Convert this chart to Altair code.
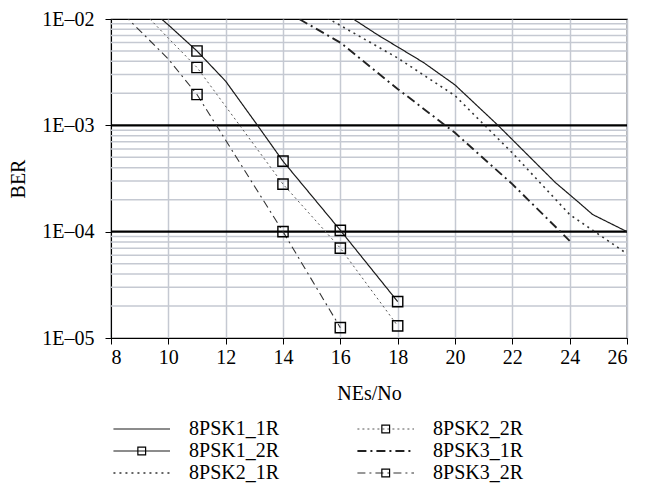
import altair as alt
import pandas as pd

FONT = "Liberation Serif"

series = ["8PSK1_1R", "8PSK1_2R", "8PSK2_1R", "8PSK2_2R", "8PSK3_1R", "8PSK3_2R"]

x_1_1R = [16.0, 17.3, 18.9, 20.0, 21.5, 23.5, 24.3, 24.8, 26.0]
y_1_1R = [1.2e-2, 7.1e-3, 3.9e-3, 2.4e-3, 1.0e-3, 2.9e-4, 1.9e-4, 1.45e-4, 1.0e-4]

x_1_2R = [9, 10, 11, 12, 13, 14, 16, 18]
y_1_2R = [1.5e-2, 8.8e-3, 5.0e-3, 2.6e-3, 1.1e-3, 4.6e-4, 1.03e-4, 2.2e-5]

x_2_1R = [15, 16, 18, 20, 22, 24, 26]
y_2_1R = [1.23e-2, 8.7e-3, 4.3e-3, 1.9e-3, 5.5e-4, 1.45e-4, 6.2e-5]

x_2_2R = [9, 10, 11, 14, 16, 18]
y_2_2R = [1.26e-2, 6.6e-3, 3.5e-3, 2.8e-4, 7.0e-5, 1.3e-5]

x_3_1R = [14, 16, 18, 20, 22, 24]
y_3_1R = [1.22e-2, 6.0e-3, 2.2e-3, 8.5e-4, 2.8e-4, 8.2e-5]

x_3_2R = [8, 10, 11, 14, 16]
y_3_2R = [1.45e-2, 4.2e-3, 1.95e-3, 1.0e-4, 1.25e-5]

marker_x = {"8PSK1_2R": [11, 14, 16, 18], "8PSK2_2R": [11, 14, 16, 18], "8PSK3_2R": [11, 14, 16]}

x_ticks = [8, 10, 12, 14, 16, 18, 20, 22, 24, 26]
y_ticks = [1e-5, 1e-4, 1e-3, 1e-2]
decade_lines = [1e-4, 1e-3]
minor_grid = [m * 10.0 ** e for e in (-5, -4, -3) for m in range(2, 10)]

data_xy = {
    "8PSK1_1R": (x_1_1R, y_1_1R),
    "8PSK1_2R": (x_1_2R, y_1_2R),
    "8PSK2_1R": (x_2_1R, y_2_1R),
    "8PSK2_2R": (x_2_2R, y_2_2R),
    "8PSK3_1R": (x_3_1R, y_3_1R),
    "8PSK3_2R": (x_3_2R, y_3_2R),
}

styles = {
    "8PSK1_1R": dict(color="#1a1a1a", strokeWidth=1.2, strokeDash=[1, 0]),
    "8PSK1_2R": dict(color="#1a1a1a", strokeWidth=1.2, strokeDash=[1, 0]),
    "8PSK2_1R": dict(color="#333333", strokeWidth=1.6, strokeDash=[2, 4]),
    "8PSK2_2R": dict(color="#555555", strokeWidth=1.0, strokeDash=[2, 3]),
    "8PSK3_1R": dict(color="#222222", strokeWidth=1.9, strokeDash=[9, 4, 2, 4]),
    "8PSK3_2R": dict(color="#333333", strokeWidth=1.1, strokeDash=[8, 4, 2, 4]),
}

rows = []
for name in series:
    xs, ys = data_xy[name]
    for i, (xv, yv) in enumerate(zip(xs, ys)):
        rows.append({"series": name, "x": xv, "ber": yv, "order": i})
df = pd.DataFrame(rows)

mk = df[df.apply(lambda r: r["x"] in marker_x.get(r["series"], []), axis=1)].reset_index(drop=True)

GRID = "#c5c9d2"
FS = 20

x_enc = alt.X(
    "x:Q",
    scale=alt.Scale(domain=[8, 26], nice=False, zero=False),
    axis=alt.Axis(
        values=x_ticks, title="NEs/No", grid=True, gridColor=GRID, gridWidth=1.5,
        tickSize=6, tickColor="black", domainColor="black", labelFont=FONT,
        labelFontSize=FS, labelColor="black", titleFont=FONT, titleFontSize=FS,
        titleFontWeight="normal", titleColor="black", labelPadding=3, titlePadding=16,
    ),
)
y_scale = alt.Scale(type="log", domain=[1e-5, 1e-2], nice=False)
y_axis = alt.Axis(
    values=y_ticks, title="BER", grid=False, tickSize=6, tickColor="black",
    domainColor="black", labelFont=FONT, labelFontSize=FS, labelColor="black",
    labelExpr="'1E\u20130' + round(-log(datum.value)/LN10)",
    titleFont=FONT, titleFontSize=FS, titleFontWeight="normal", titleColor="black",
    labelPadding=11, titlePadding=13,
)
y_enc = alt.Y("ber:Q", scale=y_scale, axis=y_axis)

minor = alt.Chart(pd.DataFrame({"ber": minor_grid})).mark_rule(color=GRID, strokeWidth=1.5).encode(
    y=y_enc
)
decades = alt.Chart(pd.DataFrame({"ber": decade_lines})).mark_rule(color="black", strokeWidth=2.2).encode(
    y=y_enc
)

base_axes = alt.Chart(df).mark_line(opacity=0).encode(x=x_enc, y=y_enc)

layers = [base_axes, minor, decades]
for name in series:
    st = styles[name]
    layers.append(
        alt.Chart(df).transform_filter(alt.datum.series == name).mark_line(clip=True, **st).encode(
            x=x_enc, y=y_enc, order="order:Q"
        )
    )
layers.append(
    alt.Chart(mk).mark_point(shape="square", size=105, filled=False, stroke="black",
                             strokeWidth=1.4, opacity=1).encode(x=x_enc, y=y_enc)
)

main = alt.layer(*layers).properties(
    width=516, height=319, view=alt.ViewBackground(stroke="black", strokeWidth=1.2)
)

# legend panel
leg_df = pd.DataFrame({"series": series, "col": [0, 0, 0, 1, 1, 1], "row": [0, 1, 2, 0, 1, 2]})
lx = alt.Scale(domain=[0, 2.115], nice=False, zero=False)
ly = alt.Scale(domain=[-0.5, 2.5], nice=False, zero=False, reverse=True)
leg_layers = []
for name in series:
    st = styles[name]
    leg_layers.append(
        alt.Chart(leg_df).transform_filter(alt.datum.series == name)
        .transform_calculate(x1="datum.col + 0.01", x2="datum.col + 0.242")
        .mark_rule(**st)
        .encode(x=alt.X("x1:Q", scale=lx, axis=None), x2="x2:Q", y=alt.Y("row:Q", scale=ly, axis=None))
    )
leg_mk = leg_df[leg_df["series"].isin(list(marker_x.keys()))]
leg_layers.append(
    alt.Chart(leg_mk).transform_calculate(xm="datum.col + 0.126")
    .mark_point(shape="square", size=60, filled=False, stroke="black", strokeWidth=1.2, opacity=1)
    .encode(x=alt.X("xm:Q", scale=lx, axis=None), y=alt.Y("row:Q", scale=ly, axis=None))
)
leg_layers.append(
    alt.Chart(leg_df).transform_calculate(xt="datum.col + 0.32")
    .mark_text(align="left", baseline="middle", font=FONT, fontSize=20, color="black")
    .encode(x=alt.X("xt:Q", scale=lx, axis=None), y=alt.Y("row:Q", scale=ly, axis=None), text="series:N")
)
legend = alt.layer(*leg_layers).properties(
    width=516, height=66, view=alt.ViewBackground(strokeOpacity=0)
)

chart = alt.vconcat(main, legend, spacing=14).properties(
    padding={"top": -9, "left": 0, "right": 5, "bottom": 0},
).configure_view(strokeWidth=0)

chart.save("out.html", embed_options={"renderer": "svg", "actions": False})
